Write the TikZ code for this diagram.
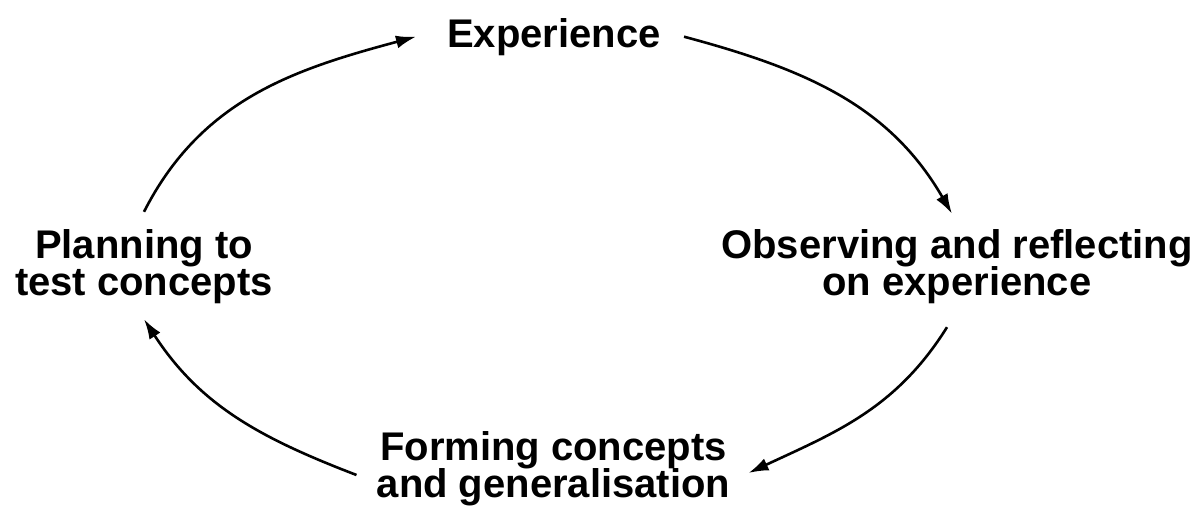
\documentclass[tikz,border=0pt]{standalone}
\usepackage{fontspec}
\setmainfont{Liberation Sans}
\usetikzlibrary{arrows.meta}

\begin{document}
\begin{tikzpicture}[x=1pt, y=1pt, line width=2.6pt,
		every node/.style={font=\bfseries\fontsize{40}{37.5}\selectfont, align=center, inner sep=0pt},
		cycle/.style={-{Latex[length=20pt, width=13pt]}}]
		\useasboundingbox (0,0) rectangle (1204,506);

		% Draw the four stages
		\node (exp) at (554, 469.3) {Experience};
		\node (obs) at (957, 239.5) {Observing and reflecting\\on experience};
		\node (form) at (553.5, 37.5) {Forming concepts\\and generalisation};
		\node (plan) at (144, 239.5) {Planning to\\test concepts};

		% Draw the arrows round the cycle
		\draw[cycle] ([yshift=16pt]plan.north) to[out=63, in=195] ([xshift=-30pt]exp.west);
		\draw[cycle] ([xshift=22pt]exp.east) to[out=-15, in=120] ([xshift=-5pt, yshift=14pt]obs.north);
		\draw[cycle] ([xshift=-10pt, yshift=-22pt]obs.south) to[out=238, in=25] ([xshift=17pt, yshift=-4.5pt]form.east);
		\draw[cycle] ([xshift=-19pt, yshift=-6.5pt]form.west) to[out=159, in=303] ([yshift=-14pt]plan.south);

	\end{tikzpicture}
\end{document}
